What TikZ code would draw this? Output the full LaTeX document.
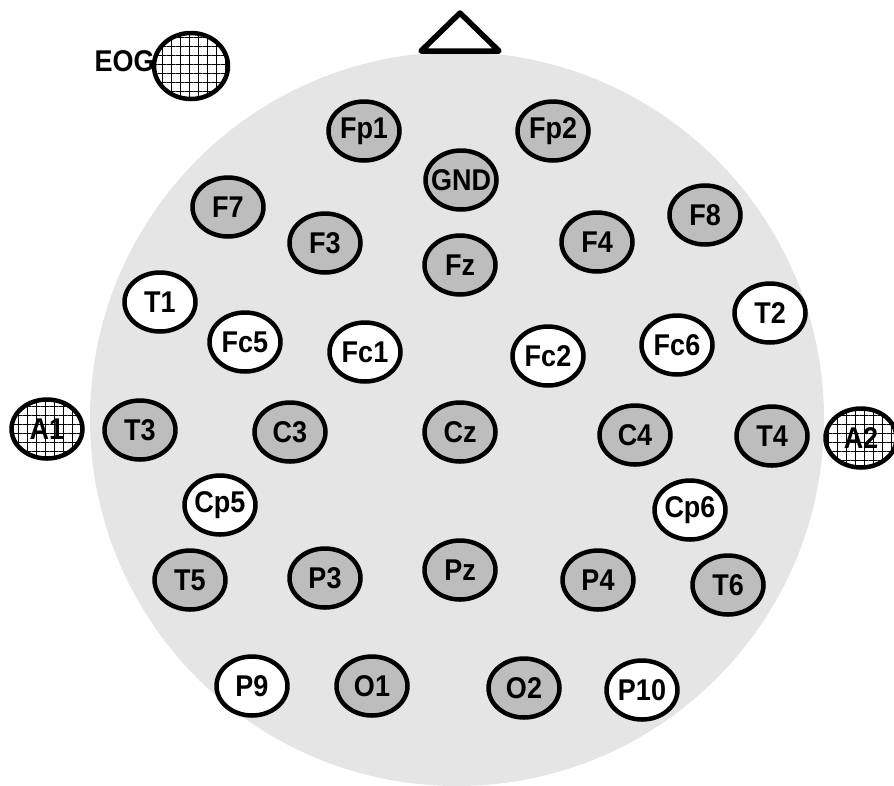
\documentclass[tikz,border=0pt]{standalone}
\usepackage{fontspec}
\setmainfont{Liberation Sans}
\usetikzlibrary{shapes.geometric,patterns.meta}
\definecolor{scalp}{gray}{0.90}
\definecolor{padgray}{gray}{0.74}
\begin{document}
\begin{tikzpicture}[x=1pt, y=-1pt, font=\fontsize{30}{30}\selectfont\bfseries, line join=round,
		pad/.style={ellipse, draw, line width=4.5pt, minimum width=71pt, minimum height=59pt, inner sep=0pt},
		act/.style={pad, fill=padgray},
		refpad/.style={pad, preaction={fill=white}, pattern={Hatch[angle=0, distance=9pt, line width=1pt]}},
		blank/.style={pad, fill=white},
		tag/.style={xscale=0.9, transform shape}]
	\useasboundingbox (0,0) rectangle (894,785);
	\fill[scalp] (457,419) circle[radius=367];
	\draw[line width=5.5pt, fill=white] (421,51) -- (460,13) -- (499,51) -- cycle;
	% recording electrodes
	\foreach \n/\x/\y in {Fp1/364/131, Fp2/553/131, GND/461/180, F7/228/207, F8/705/215, F3/325/243, Fz/460/265, F4/597/242,
			T3/140/430, C3/290/432, Cz/460/432, C4/635/435, T4/772/436, T5/190/580, P3/325/578, Pz/460/570, P4/598/580, T6/728/585,
			O1/372/686, O2/524/688}
		\node[act, label={[tag]center:\n}] (\n) at (\x,\y) {};
	% unused positions
	\foreach \n/\x/\y in {T1/160/302, T2/770/313, Fc5/245/342, Fc1/365/352, Fc2/548/356, Fc6/677/345,
			Cp5/220/505, Cp6/690/510, P9/252/686, P10/642/690}
		\node[blank, label={[tag]center:\n}] (\n) at (\x,\y) {};
	% references
	\foreach \n/\x/\y in {A1/47/429, A2/861/438}
		\node[refpad, label={[tag]center:\n}] (\n) at (\x,\y) {};
	\node[refpad, minimum width=74pt, minimum height=66pt] (eog) at (191,66) {};
	\node[tag, anchor=east, inner sep=0pt] (eoglabel) at ([xshift=3pt, yshift=5pt]eog.west) {EOG};
\end{tikzpicture}
\end{document}
